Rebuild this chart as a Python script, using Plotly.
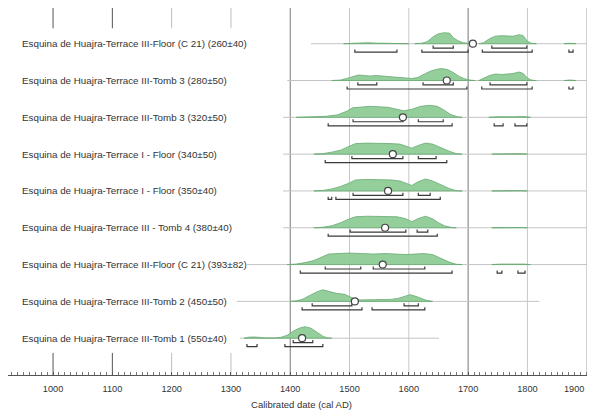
import plotly.graph_objects as go

# ---------------- data ----------------
labels = [
    "Esquina de Huajra-Terrace III-Floor (C 21) (260±40)",
    "Esquina de Huajra-Terrace III-Tomb 3 (280±50)",
    "Esquina de Huajra-Terrace III-Tomb 3 (320±50)",
    "Esquina de Huajra-Terrace I - Floor (340±50)",
    "Esquina de Huajra-Terrace I - Floor (350±40)",
    "Esquina de Huajra-Terrace III - Tomb 4 (380±40)",
    "Esquina de Huajra-Terrace III-Floor (C 21) (393±82)",
    "Esquina de Huajra-Terrace III-Tomb 2 (450±50)",
    "Esquina de Huajra-Terrace III-Tomb 1 (550±40)",
]

# density curves: list of segments; each segment = (years, heights in relative units)
density = [
    [([1490, 1510, 1530, 1545, 1560, 1580, 1600], [0, 0.5, 1, 0.6, 0.3, 0.2, 0]),
     ([1610, 1622, 1631, 1641, 1650, 1660, 1669, 1675, 1683, 1692, 1702, 1710],
      [0, 0.5, 2, 7, 10, 11, 10.5, 6, 3, 1, 0.3, 0]),
     ([1718, 1726, 1736, 1746, 1756, 1766, 1776, 1786, 1793, 1799, 1806, 1815],
      [0, 1, 5, 7.5, 8, 7.5, 7.5, 9, 8, 3, 0.5, 0]),
     ([1862, 1872, 1882], [0, 0.5, 0])],
    [([1470, 1485, 1495, 1505, 1515, 1525, 1535, 1545, 1555, 1565, 1575, 1585, 1595, 1605,
       1615, 1625, 1635, 1645, 1655, 1665, 1675, 1685, 1695, 1705, 1712],
      [0, 0.5, 2, 4, 5.5, 5, 4.5, 5, 4.5, 4, 4, 3.5, 2.5, 2,
       3, 6, 9, 11, 12, 11, 8, 4, 1.5, 0.3, 0]),
     ([1718, 1726, 1736, 1746, 1756, 1766, 1776, 1786, 1793, 1799, 1806, 1815],
      [0, 2, 5, 6.5, 6, 6.5, 7, 8.5, 7, 3, 0.5, 0]),
     ([1862, 1872, 1882], [0, 0.5, 0])],
    [([1410, 1440, 1460, 1480, 1495, 1505, 1520, 1535, 1550, 1565, 1580, 1592, 1605, 1620,
       1635, 1648, 1660, 1670, 1682, 1690],
      [0, 0.3, 1, 2.5, 6, 9.5, 10.5, 11, 10.5, 10, 8, 6.5, 8, 11, 12, 11, 7, 3, 0.5, 0]),
     ([1735, 1750, 1775, 1795, 1805], [0, 0.6, 0.5, 0.8, 0])],
    [([1440, 1455, 1470, 1485, 1500, 1510, 1530, 1550, 1570, 1585, 1595, 1605, 1615, 1628,
       1640, 1655, 1668, 1680, 1690],
      [0, 0.5, 2, 4, 8, 10.5, 11, 11, 10.5, 10, 8, 6, 8.5, 11, 10, 6, 3, 0.5, 0]),
     ([1740, 1760, 1790, 1800], [0, 0.5, 0.5, 0])],
    [([1440, 1455, 1470, 1485, 1500, 1510, 1530, 1550, 1570, 1585, 1595, 1605, 1615, 1628,
       1640, 1655, 1668, 1680, 1690],
      [0, 0.5, 2, 4.5, 8, 11, 11.5, 11.5, 11, 10, 8, 5.5, 9, 12, 10, 6, 2.5, 0.3, 0]),
     ([1740, 1760, 1790, 1800], [0, 0.4, 0.4, 0])],
    [([1440, 1455, 1470, 1485, 1500, 1510, 1530, 1560, 1580, 1595, 1605, 1615, 1628, 1640,
       1650, 1660, 1672, 1680],
      [0, 0.5, 2, 5, 9, 11, 11.5, 11.5, 11, 9, 6, 9, 11.5, 9, 5, 2, 0.3, 0]),
     ([1740, 1760, 1790, 1800], [0, 0.3, 0.3, 0])],
    [([1395, 1410, 1425, 1440, 1455, 1465, 1480, 1500, 1520, 1540, 1560, 1580, 1595, 1610,
       1625, 1640, 1655, 1668, 1680, 1690],
      [0, 0.5, 2, 4, 8, 10.5, 11, 11.5, 11, 10.5, 11, 10.5, 10, 10.5, 11, 10, 6, 2.5, 0.3, 0]),
     ([1740, 1755, 1795, 1805], [0, 0.5, 0.5, 0])],
    [([1400, 1410, 1420, 1433, 1445, 1455, 1465, 1478, 1492, 1500, 1508, 1518, 1535, 1555,
       1570, 1582, 1592, 1602, 1612, 1620, 1630, 1640],
      [0, 0.5, 2, 6, 9.5, 11.5, 10, 8, 7, 5, 2.5, 1.5, 1.5, 1.8, 2, 3, 5, 6.7, 5, 3, 1, 0])],
    [([1322, 1330, 1340, 1350, 1360, 1375, 1385, 1395, 1405, 1415, 1425, 1435, 1445, 1455,
       1462, 1470],
      [0, 1, 1.2, 0.5, 0.2, 0.3, 1, 3, 7, 10, 11.5, 10, 6, 2, 0.3, 0])],
]

medians = [1708, 1664, 1590, 1573, 1565, 1560, 1556, 1509, 1420]

sigma1 = [
    [(1641, 1675), (1740, 1799)],
    [(1514, 1546), (1624, 1675), (1737, 1799)],
    [(1506, 1590), (1616, 1658)],
    [(1504, 1590), (1616, 1646)],
    [(1506, 1590), (1616, 1636)],
    [(1501, 1595), (1614, 1632)],
    [(1459, 1519), (1540, 1627)],
    [(1437, 1504), (1592, 1616)],
    [(1405, 1438)],
]

sigma2 = [
    [(1509, 1580), (1622, 1700), (1724, 1808), (1870, 1877)],
    [(1496, 1698), (1723, 1808), (1870, 1877)],
    [(1464, 1673), (1744, 1759), (1779, 1799)],
    [(1459, 1664)],
    [(1464, 1470), (1477, 1653)],
    [(1464, 1648)],
    [(1417, 1673), (1749, 1757), (1784, 1796)],
    [(1420, 1521), (1538, 1627)],
    [(1327, 1344), (1391, 1455)],
]

baseline_extent = [
    (1435, 1914), (1395, 1914), (1388, 1914), (1388, 1914), (1388, 1914),
    (1388, 1914), (1327, 1914), (1310, 1820), (1315, 1651),
]

tick_years = [1000, 1100, 1200, 1300, 1400, 1500, 1600, 1700, 1800, 1900]
full_grid_years = [1400, 1500, 1600, 1700, 1800, 1900]
stub_years = [1000, 1100, 1200, 1300]
dark_years = [1000, 1100, 1400, 1700]

# ---------------- figure ----------------
X0, X1 = 924, 1914
Y0, Y1 = -1, 8.97
H_SCALE = 0.0272      # density unit -> y units
S1_OFF, S2_OFF, TICK = 0.12, 0.23, 0.07
FONT = "Liberation Sans, Arial"

fig = go.Figure()
n = len(labels)
for i in range(n):
    y = n - 1 - i
    bx = baseline_extent[i]
    fig.add_trace(go.Scatter(x=[bx[0], bx[1]], y=[y, y], mode="lines",
                             line=dict(color="#c4c4c4", width=1), hoverinfo="skip"))
    for xs, hs in density[i]:
        px = list(xs) + list(xs[::-1])
        py = [y + h * H_SCALE for h in hs] + [y] * len(xs)
        fig.add_trace(go.Scatter(x=px, y=py, mode="lines", fill="toself",
                                 fillcolor="rgba(142,204,150,0.95)",
                                 line=dict(color="rgba(104,170,114,1)", width=0.8),
                                 hoverinfo="skip"))
    for ranges, off in ((sigma1[i], S1_OFF), (sigma2[i], S2_OFF)):
        xx, yy = [], []
        for a, b in ranges:
            yl = y - off
            xx += [a, a, b, b, None]
            yy += [yl + TICK, yl, yl, yl + TICK, None]
        fig.add_trace(go.Scatter(x=xx, y=yy, mode="lines",
                                 line=dict(color="#3a3a3a", width=1.2), hoverinfo="skip"))
    fig.add_trace(go.Scatter(x=[medians[i]], y=[y], mode="markers",
                             marker=dict(size=7, color="white",
                                         line=dict(color="#444", width=1.2)),
                             hoverinfo="skip"))
    fig.add_annotation(x=945, y=y, text=labels[i], showarrow=False,
                       xanchor="left", yanchor="middle",
                       font=dict(family=FONT, size=9.8, color="#333"))

# last tick label sits at the right edge; anchored so it stays fully visible
fig.add_annotation(x=tick_years[-1] - 2, y=-0.038, xref="x", yref="paper",
                   text=str(tick_years[-1]), showarrow=False,
                   xanchor="right", yanchor="middle",
                   font=dict(family=FONT, size=9.2, color="#333"))

shapes = []
for yr in full_grid_years:
    shapes.append(dict(type="line", x0=yr, x1=yr, y0=Y0, y1=Y1, xref="x", yref="y",
                       layer="below",
                       line=dict(color="#777" if yr in dark_years else "#c8c8c8", width=1)))
for yr in stub_years:
    c = "#555" if yr in dark_years else "#bdbdbd"
    shapes.append(dict(type="line", x0=yr, x1=yr, y0=Y1, y1=Y1 - 0.55, xref="x", yref="y",
                       layer="below", line=dict(color=c, width=1)))
    shapes.append(dict(type="line", x0=yr, x1=yr, y0=Y0, y1=Y0 + 0.6, xref="x", yref="y",
                       layer="below", line=dict(color=c, width=1)))

fig.update_layout(
    width=587, height=405,
    margin=dict(l=0, r=0, t=0, b=38, autoexpand=False),
    paper_bgcolor="white", plot_bgcolor="white",
    showlegend=False,
    shapes=shapes,
    xaxis=dict(range=[X0, X1], tickvals=tick_years[:-1],
               ticktext=[str(t) for t in tick_years[:-1]],
               automargin=False,
               showgrid=False, zeroline=False, showline=True, mirror=True,
               linecolor="#555", linewidth=1,
               ticks="inside", ticklen=3, tickcolor="#555",
               ticklabelstandoff=5,
               minor=dict(dtick=10, tick0=0, ticks="inside", ticklen=3, tickcolor="#777"),
               tickfont=dict(family=FONT, size=9.2, color="#333"),
               title=dict(text="Calibrated date (cal AD)", standoff=8,
                          font=dict(family=FONT, size=9.5, color="#333"))),
    yaxis=dict(range=[Y0, Y1], showgrid=False, zeroline=False, showticklabels=False,
               automargin=False,
               showline=True, linecolor="#555", linewidth=1, ticks=""),
)

fig.write_html("out.html")
